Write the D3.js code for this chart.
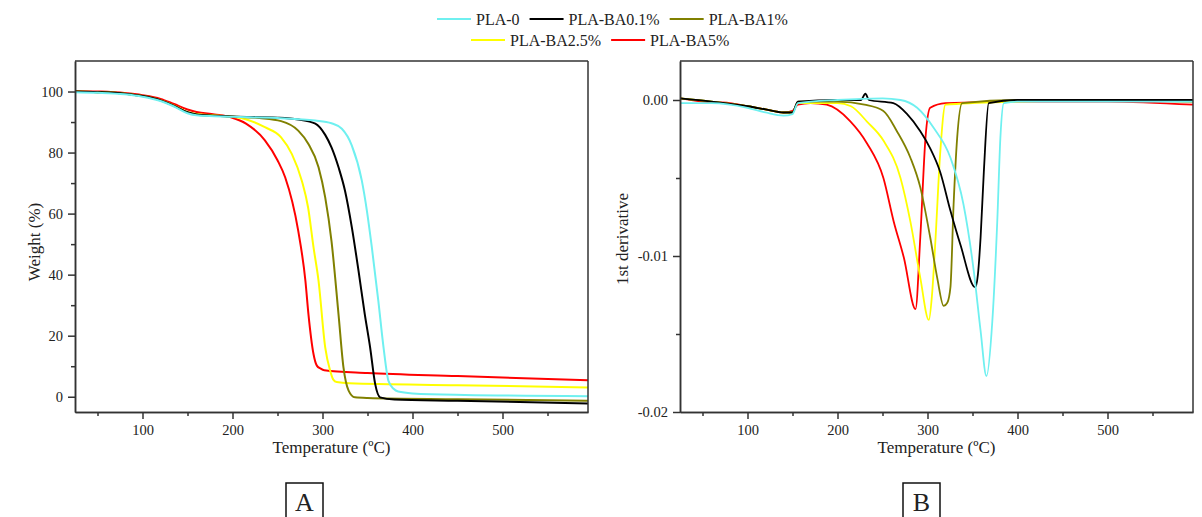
<!doctype html>
<html>
<head>
<meta charset="utf-8">
<title>TGA / DTG of PLA-BA</title>
<script src="https://cdnjs.cloudflare.com/ajax/libs/d3/7.8.5/d3.min.js"></script>
<style>
  body { margin: 0; background: #fff; }
  svg text { font-family: "Liberation Serif", "Times New Roman", serif; fill: #222; }
  .axis path, .axis line { stroke: #333; stroke-width: 1.5px; }
  .axis text { font-size: 14.5px; font-family: "Liberation Serif", serif; fill: #222; }
</style>
</head>
<body>
<div id="chart-area"></div>
<script>
// series names / colours
var series = ["PLA-0", "PLA-BA0.1%", "PLA-BA1%", "PLA-BA2.5%", "PLA-BA5%"];
var colors = ["#6ff0f0", "#000000", "#808000", "#ffff00", "#ff0000"];

// ticks
var tempTicks = [100, 200, 300, 400, 500];
var tempMinor = [50, 150, 250, 350, 450, 550];
var weightTicks = [0, 20, 40, 60, 80, 100];
var weightMinor = [10, 30, 50, 70, 90];
var derivTicks = [-0.02, -0.01, 0.00];
var derivMinor = [-0.015, -0.005];

// TGA weight (%) vs temperature
var tgaPLA0 = [[25,99.8],[50,99.6],[80,99.1],[100,98.3],[120,96.9],[135,95.1],[150,92.9],[160,92.2],[180,91.9],[200,91.7],[250,91.3],[292,90.5],[310,89.6],[321.5,87.8],[332.6,82.3],[343.7,70.8],[349.3,61],[354.8,49],[362,31.5],[367.8,16.2],[373.3,5.2],[379,2.6],[384,1.7],[400,1.1],[458,0.6],[595,0.2]];
var tgaBA01 = [[25,100],[50,99.8],[80,99.3],[100,98.5],[120,97.1],[135,95.3],[150,93.2],[160,92.5],[180,92.1],[200,91.8],[250,91.4],[273,90.8],[292,89.5],[303,85.8],[310,81.7],[318,75.0],[325,67.5],[332.6,55.5],[340,41.3],[347,27],[352.9,16.2],[358.5,4.2],[364,-0.2],[380,-0.9],[450,-1.3],[595,-2.2]];
var tgaBA1 = [[25,100],[50,99.8],[80,99.3],[100,98.5],[120,97.1],[135,95.3],[150,93.1],[160,92.4],[180,92.1],[200,91.8],[230,91.3],[254,90.3],[273,87.2],[284,83],[295.6,75.2],[303,65.3],[310,51],[317.8,27],[323.3,9.6],[329,2],[336,-0.2],[350,-0.4],[450,-0.8],[595,-1.3]];
var tgaBA25 = [[25,100],[50,99.8],[80,99.3],[100,98.5],[120,97.1],[135,95.4],[150,93.3],[160,92.6],[180,92.2],[200,91.7],[218,90.6],[236,88.3],[254,85],[266,79.5],[277,70.8],[284,62],[290,49],[295.6,38],[303,16.2],[308.5,8.5],[312,5.6],[315.8,4.8],[330,4.4],[450,3.8],[595,3.0]];
var tgaBA5 = [[25,100.2],[50,100],[80,99.5],[100,98.8],[120,97.6],[135,95.9],[150,94.1],[160,93.3],[180,92.5],[199,91.5],[215,89.5],[236,84],[250,77.5],[258.5,71.9],[273,54.4],[281,38],[284.4,27],[290,14],[293.7,10.2],[298,9.2],[302,8.7],[350,7.8],[450,6.8],[595,5.4]];

// DTG first derivative vs temperature
var dtgPLA0 = [[25,-0.0002],[60,-0.0002],[100,-0.0005],[120,-0.0008],[140,-0.001],[150,-0.0009],[156,-0.0002],[200,0],[250,0.0001],[270,0],[288.5,-0.0005],[307,-0.0018],[325.5,-0.0037],[340,-0.0067],[351.5,-0.011],[359,-0.0148],[365.5,-0.0177],[372,-0.0142],[377.5,-0.0078],[381,-0.0024],[384.8,-0.0002],[400,-0.0001],[500,-0.0001],[595,-0.0001]];
var dtgBA01 = [[25,0.0001],[60,-0.0001],[100,-0.0004],[120,-0.0006],[140,-0.0008],[150,-0.0008],[156,-0.0001],[200,0],[226,0],[231,0.0004],[235,0],[262,-0.0002],[277.4,-0.0009],[292,-0.002],[303,-0.0031],[314,-0.0046],[325.5,-0.0071],[336.7,-0.0093],[353,-0.012],[356,-0.0112],[359,-0.0088],[362.6,-0.0046],[368,-0.0002],[400,0],[500,0],[595,0]];
var dtgBA1 = [[25,0.0001],[60,-0.0001],[100,-0.0004],[120,-0.0006],[140,-0.0008],[150,-0.0008],[156,-0.0001],[200,-0.0001],[230,-0.0003],[251,-0.0007],[266,-0.002],[281,-0.0037],[292,-0.0056],[303,-0.0088],[310.8,-0.0114],[318,-0.0132],[322,-0.013],[325.5,-0.012],[329,-0.0067],[333,-0.0024],[338.5,-0.0002],[400,0],[500,0],[595,-0.0001]];
var dtgBA25 = [[25,0.0001],[60,-0.0001],[100,-0.0004],[120,-0.0006],[140,-0.0008],[150,-0.0008],[156,-0.0002],[200,-0.0002],[215,-0.0004],[233,-0.0014],[251,-0.0026],[270,-0.005],[281,-0.0078],[292,-0.0114],[301.5,-0.0141],[305,-0.0125],[309,-0.0088],[314,-0.0035],[320,-0.0003],[400,-0.0001],[500,0],[595,-0.0001]];
var dtgBA5 = [[25,0.0001],[50,-0.0001],[80,-0.0002],[100,-0.0004],[120,-0.0006],[140,-0.0008],[150,-0.0007],[156,-0.0003],[170,-0.0002],[188,-0.0003],[214,-0.00135],[233,-0.0028],[251,-0.005],[262.5,-0.0078],[273.7,-0.0101],[286.7,-0.0134],[292,-0.0088],[297.8,-0.0024],[303,-0.0005],[320,-0.0002],[400,-0.0001],[500,-0.0001],[595,-0.0003]];

var tgaData = [tgaPLA0, tgaBA01, tgaBA1, tgaBA25, tgaBA5];
var dtgData = [dtgPLA0, dtgBA01, dtgBA1, dtgBA25, dtgBA5];

var svg = d3.select("#chart-area").append("svg").attr("width", 1202).attr("height", 517);

var fmtDeriv = function(d){ return d3.format(".2f")(d).replace("\u2212", "-"); };

function panel(opts) {
    var g = svg.append("g").attr("transform", "translate(" + opts.left + "," + opts.top + ")");
    var w = opts.width, h = opts.height;
    var x = d3.scaleLinear().domain([25, 595]).range([0, w]);
    var y = d3.scaleLinear().domain(opts.yDomain).range([h, 0]);

    g.append("clipPath").attr("id", opts.id).append("rect").attr("width", w).attr("height", h);

    var line = d3.line().x(function(d){ return x(d[0]); }).y(function(d){ return y(d[1]); }).curve(d3.curveMonotoneX);
    var lines = g.append("g").attr("clip-path", "url(#" + opts.id + ")");
    // cyan drawn last, on top, as in the original
    [4, 3, 2, 1, 0].forEach(function(i){
        lines.append("path").datum(opts.data[i])
            .attr("fill", "none").attr("stroke", colors[i])
            .attr("stroke-width", opts.lw).attr("stroke-linejoin", "round")
            .attr("d", line);
    });

    // minor ticks
    g.append("g").attr("class", "axis").attr("transform", "translate(0," + h + ")")
        .call(d3.axisBottom(x).tickValues(tempMinor).tickSize(4).tickFormat("").tickSizeOuter(0));
    g.append("g").attr("class", "axis")
        .call(d3.axisLeft(y).tickValues(opts.yMinor).tickSize(4).tickFormat("").tickSizeOuter(0));
    // major ticks
    g.append("g").attr("class", "axis").attr("transform", "translate(0," + h + ")")
        .call(d3.axisBottom(x).tickValues(tempTicks).tickSize(7).tickPadding(6).tickSizeOuter(0));
    g.append("g").attr("class", "axis")
        .call(d3.axisLeft(y).tickValues(opts.yTicks).tickSize(7).tickPadding(5).tickFormat(opts.yFormat).tickSizeOuter(0));

    // frame top and right
    g.append("line").attr("x1", 0).attr("x2", w).attr("y1", 0).attr("y2", 0).attr("stroke", "#333").attr("stroke-width", 1.5);
    g.append("line").attr("x1", w).attr("x2", w).attr("y1", 0).attr("y2", h).attr("stroke", "#333").attr("stroke-width", 1.5);

    g.append("text").attr("x", w / 2).attr("y", h + 41).attr("text-anchor", "middle")
        .attr("font-size", "17px").text("Temperature (\u00baC)");
    g.append("text").attr("transform", "rotate(-90)").attr("x", -opts.yTitleY).attr("y", opts.yTitleX)
        .attr("text-anchor", "middle").attr("font-size", "17px").text(opts.yTitle);

    // panel label
    svg.append("rect").attr("x", opts.boxX).attr("y", 483).attr("width", 37).attr("height", 40)
        .attr("fill", "none").attr("stroke", "#111").attr("stroke-width", 1.5);
    svg.append("text").attr("x", opts.boxX + 18.5).attr("y", 511).attr("text-anchor", "middle")
        .attr("font-size", "26px").text(opts.label);
}

panel({ id: "clipA", left: 75, top: 61, width: 513, height: 351, yDomain: [-5, 110],
        yTicks: weightTicks, yMinor: weightMinor, yFormat: d3.format("d"), data: tgaData, lw: 2,
        yTitle: "Weight (%)", yTitleX: -35, yTitleY: 181, boxX: 286, label: "A" });

panel({ id: "clipB", left: 680, top: 61, width: 513, height: 351, yDomain: [-0.02, 0.0025],
        yTicks: derivTicks, yMinor: derivMinor, yFormat: fmtDeriv, data: dtgData, lw: 1.8,
        yTitle: "1st derivative", yTitleX: -52, yTitleY: 178, boxX: 903, label: "B" });

// legend
var legendRows = [[0, 1, 2], [3, 4]];
var legendStart = [437, 471];
var legendY = [19, 40];
legendRows.forEach(function(row, r){
    var xPos = legendStart[r];
    row.forEach(function(i){
        svg.append("line").attr("x1", xPos).attr("x2", xPos + 34).attr("y1", legendY[r]).attr("y2", legendY[r])
            .attr("stroke", colors[i]).attr("stroke-width", 2);
        var t = svg.append("text").attr("x", xPos + 39).attr("y", legendY[r] + 5.5)
            .attr("font-size", "16px").text(series[i]);
        xPos += 39 + t.node().getComputedTextLength() + 10;
    });
});
</script>
</body>
</html>
